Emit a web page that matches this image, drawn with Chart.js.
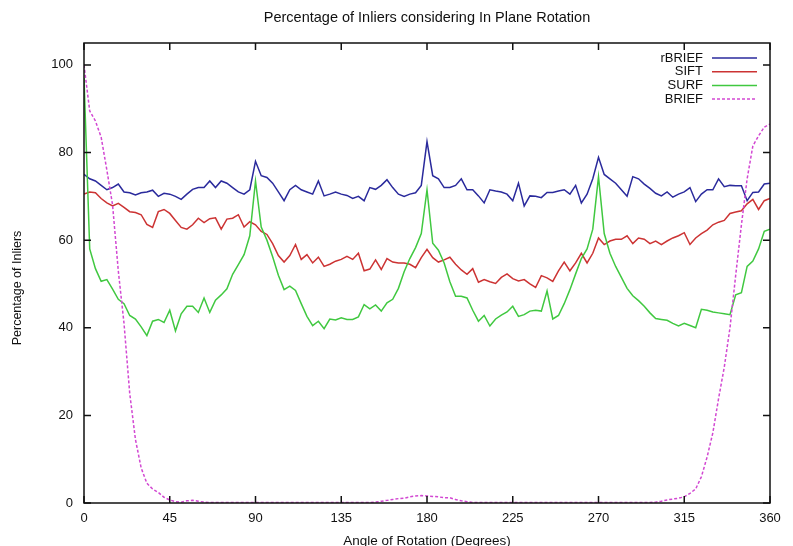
<!DOCTYPE html>
<html>
<head>
<meta charset="utf-8">
<script src="https://cdn.jsdelivr.net/npm/chart.js@4.4.1/dist/chart.umd.min.js"></script>
<style>
  html, body { margin: 0; padding: 0; background: #fff; }
  #wrap { width: 793px; height: 546px; }
</style>
</head>
<body>
<div id="wrap"><canvas id="myChart" width="793" height="546"></canvas></div>
<script>
// angle of rotation, degrees (one sample every 3 degrees)
const angles = [
  0, 3, 6, 9, 12, 15, 18, 21, 24, 27,
  30, 33, 36, 39, 42, 45, 48, 51, 54, 57,
  60, 63, 66, 69, 72, 75, 78, 81, 84, 87,
  90, 93, 96, 99, 102, 105, 108, 111, 114, 117,
  120, 123, 126, 129, 132, 135, 138, 141, 144, 147,
  150, 153, 156, 159, 162, 165, 168, 171, 174, 177,
  180, 183, 186, 189, 192, 195, 198, 201, 204, 207,
  210, 213, 216, 219, 222, 225, 228, 231, 234, 237,
  240, 243, 246, 249, 252, 255, 258, 261, 264, 267,
  270, 273, 276, 279, 282, 285, 288, 291, 294, 297,
  300, 303, 306, 309, 312, 315, 318, 321, 324, 327,
  330, 333, 336, 339, 342, 345, 348, 351, 354, 357,
  360
];

const rbrief = [
  75, 74, 73.5, 72.5, 71.5, 72, 72.8, 71, 70.8, 70.3,
  70.8, 71, 71.4, 70, 70.7, 70.5, 70, 69.3, 70.5, 71.6,
  72, 72, 73.5, 72, 73.5, 73, 72, 71, 70.5, 71.5,
  78, 74.7, 74.3, 73, 71, 69, 71.5, 72.5, 71.5, 71,
  70.5, 73.5, 70.1, 70.5, 71, 70.5, 70.2, 69.5, 70, 69,
  72, 71.6, 72.5, 73.8, 72, 70.5, 70, 70.5, 70.8, 72.5,
  82.5, 74.7, 74, 72, 72, 72.5, 74, 71.5, 71.5, 70.1,
  68.5, 71.5, 71.2, 71, 70.5, 69, 73, 67.8, 70.1, 70,
  69.7, 70.9, 70.9, 71.2, 71.5, 70.5, 72.5, 68.5, 70.5, 74,
  78.9, 75, 74, 73, 71.5, 70, 74.5, 74, 72.8, 71.8,
  70.7, 70.1, 71, 69.8, 70.5, 71, 72, 68.8, 70.5, 71.5,
  71.5, 74, 72.2, 72.5, 72.4, 72.4, 69, 70.9, 71, 72.8,
  73
];

const sift = [
  70.5, 71, 70.8, 69.5, 68.5, 67.8, 68.4, 67.5, 66.5, 66.3,
  65.8, 63.6, 62.9, 66.5, 67, 66.1, 64.5, 62.9, 62.5, 63.5,
  65, 64, 64.9, 65.1, 62.5, 64.8, 65, 65.8, 63, 64.2,
  63.5, 62, 61.3, 59.2, 56.5, 55, 56.5, 59, 55.6, 56.7,
  54.8, 56.1, 54, 54.5, 55.2, 55.6, 56.3, 55.6, 57, 53,
  53.4, 55.5, 53.3, 55.8, 55, 54.8, 54.8, 54.5, 53.7, 56,
  57.9, 56, 55, 55.5, 56.1, 54.5, 53.2, 52.2, 53.5, 50.4,
  51, 50.5, 50.1, 51.5, 52.3, 51.2, 50.7, 51, 50, 49.2,
  51.9, 51.4, 50.6, 53, 55, 53, 54.8, 57, 54.8, 57,
  60.5, 59, 59.8, 60.2, 60.2, 61, 59.2, 60.5, 60.2, 59.2,
  59.8, 59, 59.8, 60.5, 61, 61.7, 59, 60.5, 61.5, 62.3,
  63.5, 64.1, 64.5, 66.1, 66.4, 66.7, 68.3, 69.3, 67, 69,
  69.5
];

const surf = [
  97, 58, 53.5, 50.6, 51, 48.8, 46.5, 45.5, 42.8, 42,
  40.2, 38.2, 41.5, 41.9, 41.2, 44, 39.3, 43.2, 44.9, 44.9,
  43.5, 46.8, 43.5, 46.3, 47.5, 48.9, 52.2, 54.4, 56.7, 61,
  73.5, 63, 60, 56.2, 52, 48.7, 49.5, 48.5, 45.5, 42.6,
  40.5, 41.5, 39.8, 42, 41.8, 42.3, 41.9, 41.9, 42.5, 45.3,
  44.3, 45.2, 43.8, 45.7, 46.5, 49, 52.8, 55.8, 58.3, 61.5,
  71.5, 59.3, 57.7, 54.8, 50.5, 47.2, 47.2, 46.8, 44, 41.5,
  42.8, 40.4, 42, 42.9, 43.6, 44.9, 42.6, 43, 43.8, 44,
  43.8, 48.4, 42, 42.8, 45.5, 48.7, 52.3, 55.8, 58, 62.5,
  74.5, 61.5, 57, 54, 51.5, 49, 47.3, 46.2, 44.9, 43.4,
  42.1, 41.9, 41.7, 41, 40.4, 41, 40.5, 40, 44.2, 44,
  43.6, 43.4, 43.2, 43, 47.5, 48, 54, 55.2, 58, 62,
  62.5
];

const brief = [
  100, 89.5, 87.2, 83.5, 76, 68, 53, 41, 25, 14.5,
  8, 4.5, 3.2, 2.4, 1.3, 0.7, 0.3, 0.2, 0.5, 0.6,
  0.4, 0.2, 0.1, 0.1, 0.1, 0.1, 0.1, 0.1, 0.1, 0.1,
  0.1, 0.1, 0.1, 0.1, 0.1, 0.1, 0.1, 0.1, 0.1, 0.1,
  0.1, 0.1, 0.1, 0.1, 0.1, 0.1, 0.1, 0.1, 0.1, 0.1,
  0.1, 0.2, 0.4, 0.6, 0.8, 1, 1.1, 1.4, 1.6, 1.7,
  1.6, 1.5, 1.4, 1.2, 1.2, 0.8, 0.5, 0.3, 0.1, 0.1,
  0.1, 0.1, 0.1, 0.1, 0.1, 0.1, 0.1, 0.1, 0.1, 0.1,
  0.1, 0.1, 0.1, 0.1, 0.1, 0.1, 0.1, 0.1, 0.1, 0.1,
  0.1, 0.1, 0.1, 0.1, 0.1, 0.1, 0.1, 0.1, 0.1, 0.1,
  0.2, 0.4, 0.7, 0.9, 1.1, 1.4, 2.2, 3.2, 6, 10.5,
  16, 23.8, 31, 40, 52, 63.5, 74, 81.5, 83.8, 85.8,
  86.5
];

const xTicks = [0, 45, 90, 135, 180, 225, 270, 315, 360];
const yTicks = [0, 20, 40, 60, 80, 100];

const FONT = "'Liberation Sans', Arial, sans-serif";

function pts(values) {
  return angles.map((a, i) => ({x: a, y: values[i]}));
}

// gnuplot-like border with inward ticks on all four sides, plus the key
const frame = {
  id: 'frame',
  afterDatasetsDraw(chart) {
    const ctx = chart.ctx;
    const a = chart.chartArea;
    const xs = chart.scales.x, ys = chart.scales.y;
    ctx.save();
    ctx.strokeStyle = '#111';
    ctx.lineWidth = 1.5;
    ctx.strokeRect(a.left, a.top, a.right - a.left, a.bottom - a.top);
    ctx.beginPath();
    xTicks.forEach(v => {
      const px = xs.getPixelForValue(v);
      ctx.moveTo(px, a.bottom); ctx.lineTo(px, a.bottom - 7);
      ctx.moveTo(px, a.top); ctx.lineTo(px, a.top + 7);
    });
    yTicks.forEach(v => {
      const py = ys.getPixelForValue(v);
      ctx.moveTo(a.left, py); ctx.lineTo(a.left + 7, py);
      ctx.moveTo(a.right, py); ctx.lineTo(a.right - 7, py);
    });
    ctx.stroke();

    // y axis title, a little below the middle as in the original
    ctx.fillStyle = '#111';
    ctx.font = '12.5px ' + FONT;
    ctx.textAlign = 'center';
    ctx.textBaseline = 'middle';
    ctx.translate(18, (a.top + a.bottom) / 2 + 15);
    ctx.rotate(-Math.PI / 2);
    ctx.fillText('Percentage of Inliers', 0, 0);
    ctx.setTransform(1, 0, 0, 1, 0, 0);

    ctx.font = '13px ' + FONT;
    ctx.textAlign = 'right';
    chart.data.datasets.forEach((ds, i) => {
      const y = a.top + 15 + i * 13.7;
      ctx.fillStyle = '#111';
      ctx.fillText(ds.label, a.right - 67, y);
      ctx.strokeStyle = ds.borderColor;
      ctx.lineWidth = ds.borderWidth;
      ctx.setLineDash(ds.borderDash || []);
      ctx.beginPath();
      ctx.moveTo(a.right - 58, y);
      ctx.lineTo(a.right - 13, y);
      ctx.stroke();
    });
    ctx.restore();
  }
};

const ctx = document.getElementById('myChart').getContext('2d');
new Chart(ctx, {
  type: 'line',
  data: {
    datasets: [
      {label: 'rBRIEF', data: pts(rbrief), borderColor: '#2a2a9c', borderWidth: 1.5, order: 4},
      {label: 'SIFT', data: pts(sift), borderColor: '#cc3333', borderWidth: 1.5, order: 3},
      {label: 'SURF', data: pts(surf), borderColor: '#40c840', borderWidth: 1.5, order: 2},
      {label: 'BRIEF', data: pts(brief), borderColor: '#d248d2', borderWidth: 1.5, borderDash: [3, 2], order: 1}
    ]
  },
  options: {
    responsive: false,
    animation: false,
    events: [],
    elements: {
      point: {radius: 0},
      line: {tension: 0}
    },
    layout: {padding: {left: 0, right: 23, top: 0, bottom: 0}},
    plugins: {
      legend: {display: false},
      tooltip: {enabled: false},
      title: {
        display: true,
        fullSize: false,
        text: 'Percentage of Inliers considering In Plane Rotation',
        color: '#111',
        font: {family: FONT, size: 14.5, weight: 'normal'},
        padding: {top: 9, bottom: 16.6}
      }
    },
    scales: {
      x: {
        type: 'linear',
        min: 0,
        max: 360,
        afterFit(scale) { scale.height = 43; },
        grid: {display: false, drawTicks: false},
        border: {display: false},
        ticks: {
          stepSize: 45,
          padding: 8,
          color: '#111',
          maxRotation: 0,
          font: {family: FONT, size: 13}
        },
        title: {
          display: true,
          text: 'Angle of Rotation (Degrees)',
          color: '#111',
          font: {family: FONT, size: 13.5},
          padding: {top: 0, bottom: -3}
        }
      },
      y: {
        type: 'linear',
        min: 0,
        max: 105,
        afterFit(scale) { scale.width = 84; },
        grid: {display: false, drawTicks: false},
        border: {display: false},
        ticks: {
          stepSize: 20,
          includeBounds: false,
          padding: 11,
          color: '#111',
          font: {family: FONT, size: 13}
        }
      }
    }
  },
  plugins: [frame]
});
</script>
</body>
</html>
